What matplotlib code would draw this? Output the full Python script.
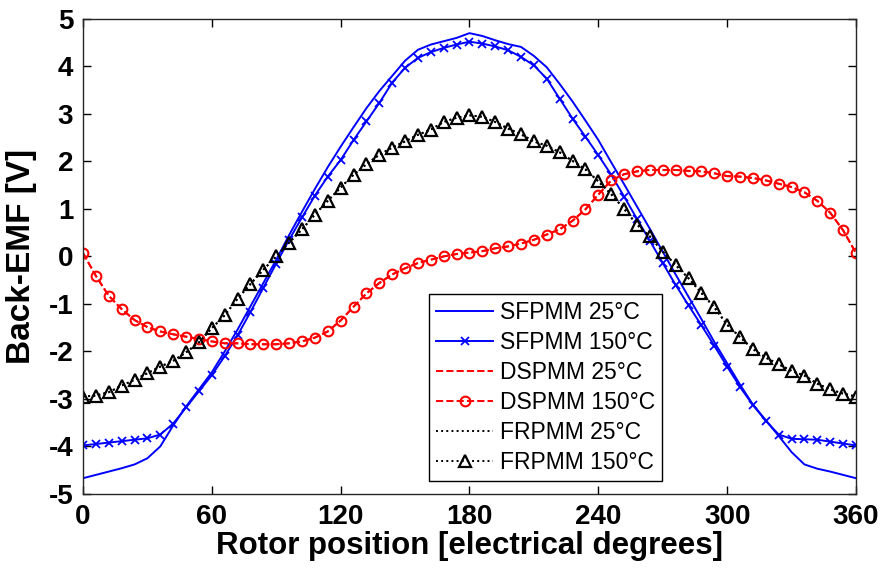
import matplotlib
matplotlib.use("Agg")
import matplotlib.pyplot as plt

plt.rcParams['font.family'] = ['Liberation Sans', 'DejaVu Sans']
plt.rcParams['font.weight'] = 'bold'
plt.rcParams['axes.unicode_minus'] = False

# rotor position, one sample every 6 electrical degrees
theta = list(range(0, 361, 6))

sf_25 = [-4.67, -4.60, -4.53, -4.46, -4.38, -4.25, -4.00, -3.56, -3.16, -2.80,
         -2.44, -2.00, -1.54, -1.05, -0.56, -0.07, 0.45, 0.94, 1.42, 1.88,
         2.31, 2.72, 3.12, 3.48, 3.80, 4.12, 4.35, 4.46, 4.53, 4.60,
         4.70, 4.64, 4.55, 4.47, 4.41, 4.22, 3.98, 3.63, 3.26, 2.86,
         2.45, 1.98, 1.52, 1.05, 0.58, 0.10, -0.38, -0.85, -1.32, -1.80,
         -2.25, -2.70, -3.12, -3.45, -3.78, -4.12, -4.38, -4.47, -4.53, -4.60,
         -4.67]

sf_150 = [-3.98, -3.95, -3.92, -3.89, -3.86, -3.83, -3.75, -3.52, -3.18, -2.84,
          -2.50, -2.10, -1.66, -1.17, -0.66, -0.15, 0.35, 0.82, 1.28, 1.68,
          2.03, 2.45, 2.84, 3.23, 3.66, 3.97, 4.18, 4.30, 4.39, 4.46,
          4.52, 4.48, 4.42, 4.34, 4.20, 4.02, 3.74, 3.32, 2.90, 2.52,
          2.13, 1.72, 1.26, 0.79, 0.33, -0.14, -0.60, -1.03, -1.45, -1.88,
          -2.32, -2.75, -3.13, -3.46, -3.75, -3.84, -3.85, -3.86, -3.90, -3.94,
          -3.98]

ds_25 = [0.07, -0.41, -0.83, -1.11, -1.34, -1.49, -1.58, -1.64, -1.69, -1.74,
         -1.79, -1.83, -1.83, -1.85, -1.85, -1.85, -1.83, -1.79, -1.71, -1.58,
         -1.35, -1.06, -0.78, -0.56, -0.38, -0.25, -0.14, -0.07, 0.00, 0.05,
         0.08, 0.11, 0.17, 0.21, 0.27, 0.35, 0.46, 0.57, 0.75, 0.99,
         1.30, 1.60, 1.73, 1.79, 1.82, 1.82, 1.82, 1.80, 1.79, 1.75,
         1.69, 1.68, 1.65, 1.60, 1.53, 1.46, 1.35, 1.17, 0.92, 0.55,
         0.07]
ds_150 = ds_25  # the two temperatures lie on top of each other

fr_25 = [-2.95, -2.93, -2.86, -2.72, -2.60, -2.46, -2.32, -2.20, -2.02, -1.81,
         -1.51, -1.24, -0.89, -0.58, -0.28, 0.00, 0.29, 0.57, 0.88, 1.17,
         1.45, 1.72, 1.94, 2.14, 2.29, 2.42, 2.56, 2.67, 2.83, 2.92,
         2.97, 2.94, 2.83, 2.69, 2.57, 2.42, 2.33, 2.19, 2.01, 1.83,
         1.58, 1.31, 1.00, 0.67, 0.42, 0.10, -0.18, -0.46, -0.77, -1.07,
         -1.44, -1.70, -1.95, -2.13, -2.27, -2.41, -2.51, -2.68, -2.80, -2.89,
         -2.95]
fr_150 = fr_25

fig = plt.figure(figsize=(8.83, 5.69), dpi=100)
ax = fig.add_axes([0.094, 0.132, 0.8754, 0.8348])

ax.plot(theta, sf_25, '-', color='#0000ff', lw=1.4, label='SFPMM 25°C')
ax.plot(theta, sf_150, '-x', color='#0000ff', lw=1.4, ms=5.5, mew=1.3,
        label='SFPMM 150°C')
ax.plot(theta, ds_25, '--', color='#ff0000', lw=1.4, label='DSPMM 25°C')
ax.plot(theta, ds_150, '--o', color='#ff0000', lw=1.4, ms=7, mew=1.5,
        mfc='none', label='DSPMM 150°C')
ax.plot(theta, fr_25, ':', color='black', lw=1.4, label='FRPMM 25°C')
ax.plot(theta, fr_150, ':^', color='black', lw=1.4, ms=8, mew=1.6,
        mfc='none', label='FRPMM 150°C')

ax.set_xlim(0, 360)
ax.set_ylim(-5, 5)
ax.set_xticks(range(0, 361, 60))
ax.set_yticks(range(-5, 6))
ax.tick_params(direction='in', length=6, width=1, top=True, right=True,
               labelsize=20, pad=7)
for s in ax.spines.values():
    s.set_linewidth(1.0)
    s.set_color('#262626')

ax.set_xlabel('Rotor position [electrical degrees]', fontsize=22.5,
              fontweight='bold', labelpad=1)
ax.set_ylabel('Back-EMF [V]', fontsize=24, fontweight='bold', labelpad=8)

leg = ax.legend(loc='upper left', bbox_to_anchor=(0.448, 0.421),
                borderaxespad=0, fontsize=16.5, handlelength=2.5,
                handletextpad=0.3, labelspacing=0.31, borderpad=0.3,
                fancybox=False, framealpha=1)
leg.get_frame().set_edgecolor('black')
leg.get_frame().set_linewidth(1.0)
for t in leg.get_texts():
    t.set_fontweight('normal')

fig.savefig('out.png', dpi=100)
